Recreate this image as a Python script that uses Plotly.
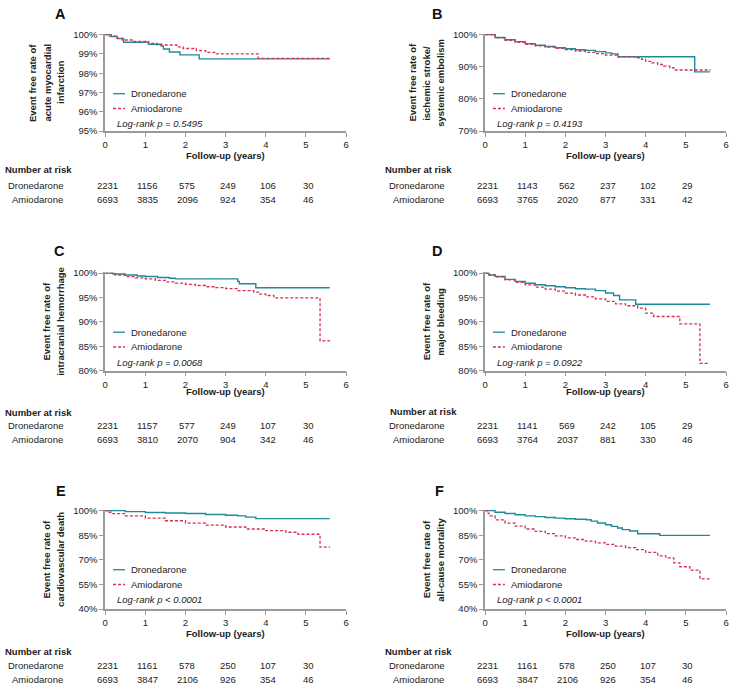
import plotly.graph_objects as go

W, H = 732, 692
FONT = "Liberation Sans, Arial, sans-serif"
TEAL = "#1f8a98"
RED = "#d8304f"
AXC = "#9a9a9a"
TXT = "#222222"

# ---------------- data ----------------
a_dro_t = [0, 0.15, 0.3, 0.46, 1.08, 1.4, 1.45, 1.6, 1.86, 2.34, 5.59]
a_dro_s = [100, 99.9, 99.8, 99.6, 99.5, 99.4, 99.25, 99.1, 98.95, 98.74, 98.74]
a_ami_t = [0, 0.1, 0.3, 0.42, 0.7, 1.08, 1.3, 1.78, 1.94, 2.27, 2.5, 2.77, 3.81, 5.59]
a_ami_s = [100, 99.92, 99.8, 99.72, 99.64, 99.54, 99.46, 99.36, 99.28, 99.17, 99.08, 99.0, 98.77, 98.77]

b_dro_t = [0, 0.25, 0.5, 0.75, 1, 1.25, 1.5, 1.75, 2, 2.25, 2.5, 2.75, 3, 3.15, 3.31, 5.22, 5.6]
b_dro_s = [100, 99.1, 98.4, 97.8, 97.2, 96.7, 96.3, 95.9, 95.6, 95.3, 95.1, 94.7, 94.3, 94.0, 93.1, 88.4, 88.4]
b_ami_t = [0, 0.25, 0.5, 0.75, 1, 1.25, 1.5, 1.75, 2, 2.25, 2.5, 2.75, 3, 3.3, 3.75, 3.9, 4, 4.15, 4.3, 4.45, 4.6, 4.7, 5.6]
b_ami_s = [100, 99.0, 98.2, 97.6, 97.0, 96.5, 96.1, 95.7, 95.3, 94.9, 94.5, 94.1, 93.6, 93.1, 92.8, 92.3, 91.7, 91.2, 90.7, 90.2, 89.7, 89.0, 88.8]

c_dro_t = [0, 0.2, 0.5, 0.8, 1, 1.3, 1.6, 1.75, 3.3, 3.34, 3.75, 5.59]
c_dro_s = [100, 99.8, 99.6, 99.4, 99.3, 99.1, 98.95, 98.8, 98.3, 97.8, 97.0, 97.0]
c_ami_t = [0, 0.25, 0.5, 0.75, 1, 1.25, 1.5, 1.75, 2, 2.25, 2.5, 2.75, 3, 3.3, 3.7, 3.85, 4, 4.2, 5.35, 5.6]
c_ami_s = [100, 99.6, 99.26, 99.0, 98.8, 98.5, 98.2, 97.95, 97.7, 97.45, 97.2, 97.0, 96.8, 96.4, 96.1, 95.7, 95.4, 94.9, 86.1, 86.1]

d_dro_t = [0, 0.1, 0.25, 0.5, 0.75, 1, 1.25, 1.5, 1.75, 2, 2.25, 2.5, 2.75, 3, 3.2, 3.35, 3.75, 5.6]
d_dro_s = [100, 99.6, 99.3, 98.7, 98.3, 97.9, 97.6, 97.4, 97.2, 97.0, 96.8, 96.7, 96.4, 95.9, 95.4, 94.5, 93.6, 93.6]
d_ami_t = [0, 0.1, 0.25, 0.5, 0.75, 1, 1.25, 1.5, 1.75, 2, 2.25, 2.5, 2.75, 3, 3.25, 3.5, 3.8, 4, 4.2, 4.85, 5.35, 5.6]
d_ami_s = [100, 99.6, 99.2, 98.6, 98.1, 97.6, 97.1, 96.7, 96.3, 95.9, 95.5, 95.1, 94.7, 94.2, 93.7, 93.3, 92.8, 91.8, 91.1, 89.6, 81.5, 81.5]

e_dro_t = [0, 0.5, 1, 1.5, 2, 2.5, 3, 3.3, 3.5, 3.75, 5.59]
e_dro_s = [100, 99.4, 98.8, 98.5, 98.2, 97.6, 97.2, 96.8, 96.0, 95.1, 95.1]
e_ami_t = [0, 0.05, 0.15, 0.5, 1, 1.5, 2, 2.5, 3, 3.5, 4, 4.5, 4.8, 5.35, 5.6]
e_ami_s = [100, 99.0, 98.2, 96.8, 95.4, 93.8, 92.4, 91.2, 90.0, 88.8, 87.8, 86.8, 85.6, 77.8, 77.8]

f_dro_t = [0, 0.25, 0.5, 0.75, 1, 1.25, 1.5, 1.75, 2, 2.25, 2.52, 2.64, 2.8, 3.0, 3.15, 3.3, 3.42, 3.6, 3.8, 4.35, 5.6]
f_dro_s = [100, 99.0, 98.2, 97.5, 96.8, 96.3, 95.8, 95.4, 95.0, 94.7, 94.4, 93.6, 92.4, 91.4, 90.4, 89.4, 88.4, 87.6, 85.9, 84.9, 84.9]
f_ami_t = [0, 0.05, 0.1, 0.25, 0.5, 0.75, 1, 1.25, 1.5, 1.75, 2, 2.25, 2.5, 2.75, 3, 3.25, 3.5, 3.75, 4, 4.3, 4.5, 4.7, 4.85, 5.1, 5.35, 5.6]
f_ami_s = [100, 98.4, 96.8, 94.4, 92.4, 90.6, 88.8, 87.4, 86.0, 84.6, 83.4, 82.4, 81.4, 80.4, 79.4, 78.4, 77.4, 76.2, 74.6, 72.4, 71.2, 68.2, 65.8, 63.8, 58.4, 58.4]

series_names = ["Dronedarone", "Amiodarone"]
x_ticks = [0, 1, 2, 3, 4, 5, 6]
risk_times = [0, 1, 2, 3, 4, 5]

a_risk_dro = [2231, 1156, 575, 249, 106, 30]
a_risk_ami = [6693, 3835, 2096, 924, 354, 46]
b_risk_dro = [2231, 1143, 562, 237, 102, 29]
b_risk_ami = [6693, 3765, 2020, 877, 331, 42]
c_risk_dro = [2231, 1157, 577, 249, 107, 30]
c_risk_ami = [6693, 3810, 2070, 904, 342, 46]
d_risk_dro = [2231, 1141, 569, 242, 105, 29]
d_risk_ami = [6693, 3764, 2037, 881, 330, 46]
e_risk_dro = [2231, 1161, 578, 250, 107, 30]
e_risk_ami = [6693, 3847, 2106, 926, 354, 46]
f_risk_dro = [2231, 1161, 578, 250, 107, 30]
f_risk_ami = [6693, 3847, 2106, 926, 354, 46]

a_yticks = [95, 96, 97, 98, 99, 100]
b_yticks = [70, 80, 90, 100]
c_yticks = [80, 85, 90, 95, 100]
d_yticks = [80, 85, 90, 95, 100]
e_yticks = [40, 55, 70, 85, 100]
f_yticks = [40, 55, 70, 85, 100]

a_ytitle = ["Event free rate of", "acute myocardial", "infarction"]
b_ytitle = ["Event free rate of", "ischemic stroke/", "systemic embolism"]
c_ytitle = ["Event free rate of", "intracranial hemorrhage"]
d_ytitle = ["Event free rate of", "major bleeding"]
e_ytitle = ["Event free rate of", "cardiovascular death"]
f_ytitle = ["Event free rate of", "all-cause mortality"]

a_p = "Log-rank p = 0.5495"
b_p = "Log-rank p = 0.4193"
c_p = "Log-rank p = 0.0068"
d_p = "Log-rank p = 0.0922"
e_p = "Log-rank p &lt; 0.0001"
f_p = "Log-rank p &lt; 0.0001"

# ---------------- layout geometry (pixels) ----------------
panels = [
    dict(letter="A", L=103, R=346, T=30, B=128, yt=a_yticks, ytitle=a_ytitle, ytx=[30.5, 45, 58.5],
         dro=(a_dro_t, a_dro_s), ami=(a_ami_t, a_ami_s), p=a_p, rd=a_risk_dro, ra=a_risk_ami,
         letxy=(58, 9), xtitle_y=153, nar=(0, 167), lab_r=63, rows=(183, 197)),
    dict(letter="B", L=486, R=729, T=30, B=128, yt=b_yticks, ytitle=b_ytitle, ytx=[413, 427.5, 441.5],
         dro=(b_dro_t, b_dro_s), ami=(b_ami_t, b_ami_s), p=b_p, rd=b_risk_dro, ra=b_risk_ami,
         letxy=(438, 9), xtitle_y=153, nar=(383, 167), lab_r=447, rows=(183, 197)),
    dict(letter="C", L=103, R=346, T=272, B=371, yt=c_yticks, ytitle=c_ytitle, ytx=[44, 58.5],
         dro=(c_dro_t, c_dro_s), ami=(c_ami_t, c_ami_s), p=c_p, rd=c_risk_dro, ra=c_risk_ami,
         letxy=(57, 250), xtitle_y=392, nar=(0, 413), lab_r=63, rows=(427, 441)),
    dict(letter="D", L=486, R=729, T=272, B=371, yt=d_yticks, ytitle=d_ytitle, ytx=[427, 441.5],
         dro=(d_dro_t, d_dro_s), ami=(d_ami_t, d_ami_s), p=d_p, rd=d_risk_dro, ra=d_risk_ami,
         letxy=(438, 250), xtitle_y=392, nar=(388, 412), lab_r=447, rows=(427, 441)),
    dict(letter="E", L=103, R=346, T=513, B=613, yt=e_yticks, ytitle=e_ytitle, ytx=[44, 58.5],
         dro=(e_dro_t, e_dro_s), ami=(e_ami_t, e_ami_s), p=e_p, rd=e_risk_dro, ra=e_risk_ami,
         letxy=(58, 493), xtitle_y=638, nar=(0, 656), lab_r=63, rows=(670, 684)),
    dict(letter="F", L=486, R=729, T=513, B=613, yt=f_yticks, ytitle=f_ytitle, ytx=[427, 441.5],
         dro=(f_dro_t, f_dro_s), ami=(f_ami_t, f_ami_s), p=f_p, rd=f_risk_dro, ra=f_risk_ami,
         letxy=(440, 493), xtitle_y=638, nar=(383, 656), lab_r=447, rows=(670, 684)),
]


def px_x(v):
    return v / W


def px_y(v):
    return 1 - v / H


fig = go.Figure()
annotations = []
shapes = []
layout = {}

for i, pn in enumerate(panels, start=1):
    sfx = "" if i == 1 else str(i)
    xa, ya = "x" + sfx, "y" + sfx
    ymin, ymax = pn["yt"][0], pn["yt"][-1]
    pad = 0.7 * (ymax - ymin) / (pn["B"] - pn["T"])

    fig.add_trace(go.Scatter(x=pn["dro"][0], y=pn["dro"][1], mode="lines", name=series_names[0],
                             line=dict(color=TEAL, width=1.4, shape="hv"), xaxis=xa, yaxis=ya,
                             showlegend=False))
    fig.add_trace(go.Scatter(x=pn["ami"][0], y=pn["ami"][1], mode="lines", name=series_names[1],
                             line=dict(color=RED, width=1.3, shape="hv", dash="3px,2px"),
                             xaxis=xa, yaxis=ya, showlegend=False))

    axis_common = dict(showline=True, linecolor=AXC, linewidth=1.5, ticks="outside", ticklen=4,
                       tickcolor=AXC, tickwidth=1.2, showgrid=False, zeroline=False,
                       tickfont=dict(family=FONT, size=9.5, color=TXT), fixedrange=True)
    layout["xaxis" + sfx] = dict(axis_common, domain=[px_x(pn["L"]), px_x(pn["R"])], range=[0, 6],
                                 tickvals=x_ticks, anchor=ya)
    layout["yaxis" + sfx] = dict(axis_common, domain=[px_y(pn["B"]), px_y(pn["T"] - 0.7)],
                                 range=[ymin, ymax + pad], tickvals=pn["yt"],
                                 ticktext=[f"{v}%" for v in pn["yt"]], anchor=xa)

    # panel letter
    annotations.append(dict(text=f"<b>{pn['letter']}</b>", x=px_x(pn["letxy"][0]), y=px_y(pn["letxy"][1]),
                            xref="paper", yref="paper", showarrow=False, xanchor="center", yanchor="middle",
                            font=dict(family=FONT, size=14.5, color="#111")))
    # y title lines
    ycen = (pn["T"] + pn["B"]) / 2
    for txt, xx in zip(pn["ytitle"], pn["ytx"]):
        annotations.append(dict(text=f"<b>{txt}</b>", x=px_x(xx), y=px_y(ycen), xref="paper", yref="paper",
                                showarrow=False, textangle=-90, xanchor="center", yanchor="middle",
                                font=dict(family=FONT, size=9.5, color=TXT)))
    # x title
    annotations.append(dict(text="<b>Follow-up (years)</b>", x=px_x((pn["L"] + pn["R"]) / 2),
                            y=px_y(pn["xtitle_y"]), xref="paper", yref="paper", showarrow=False,
                            xanchor="center", yanchor="middle", font=dict(family=FONT, size=9.5, color=TXT)))
    # legend
    L, T = pn["L"], pn["T"]
    for k, (col, dash) in enumerate([(TEAL, "solid"), (RED, "3px,2px")]):
        yy = T + 60 + 15 * k
        shapes.append(dict(type="line", xref="paper", yref="paper", x0=px_x(L + 8), x1=px_x(L + 20),
                           y0=px_y(yy), y1=px_y(yy), line=dict(color=col, width=1.3, dash=dash)))
        annotations.append(dict(text=series_names[k], x=px_x(L + 24), y=px_y(yy), xref="paper", yref="paper",
                                showarrow=False, xanchor="left", yanchor="middle",
                                font=dict(family=FONT, size=9.5, color=TXT)))
    annotations.append(dict(text=f"<i>{pn['p']}</i>", x=px_x(L + 10), y=px_y(T + 90.5), xref="paper",
                            yref="paper", showarrow=False, xanchor="left", yanchor="middle",
                            font=dict(family=FONT, size=9.5, color=TXT)))
    # risk table
    annotations.append(dict(text="<b>Number at risk</b>", x=px_x(pn["nar"][0]), y=px_y(pn["nar"][1]),
                            xref="paper", yref="paper", showarrow=False, xanchor="left", yanchor="middle",
                            font=dict(family=FONT, size=9.5, color=TXT)))
    for k, vals in enumerate([pn["rd"], pn["ra"]]):
        ry = pn["rows"][k]
        annotations.append(dict(text=series_names[k], x=px_x(pn["lab_r"]), y=px_y(ry), xref="paper",
                                yref="paper", showarrow=False, xanchor="right", yanchor="middle",
                                font=dict(family=FONT, size=9.5, color=TXT)))
        for t, v in zip(risk_times, vals):
            annotations.append(dict(text=str(v), x=t + 0.05, y=px_y(ry), xref=xa, yref="paper",
                                    showarrow=False, xanchor="center", yanchor="middle",
                                    font=dict(family=FONT, size=9.5, color=TXT)))

fig.update_layout(width=W, height=H, margin=dict(l=0, r=0, t=0, b=0), paper_bgcolor="white",
                  plot_bgcolor="white", showlegend=False, annotations=annotations, shapes=shapes,
                  font=dict(family=FONT, size=9.5, color=TXT), **layout)

fig.write_html("out.html", config={"displayModeBar": False},
               post_script="document.body.style.margin='0px';document.body.style.overflow='hidden';")
